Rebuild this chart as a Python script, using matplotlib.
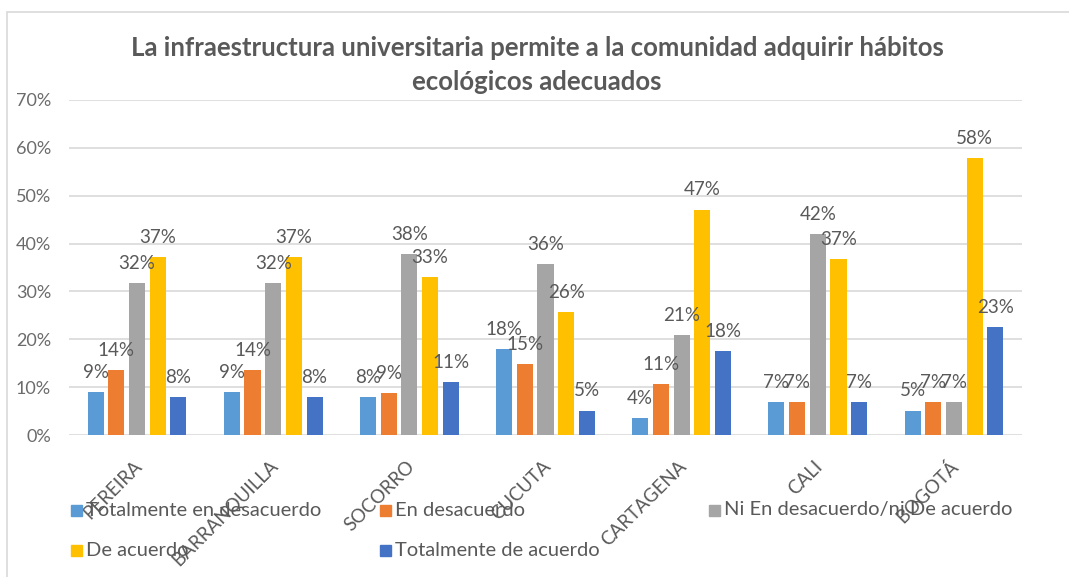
import matplotlib
matplotlib.use("Agg")
import matplotlib.pyplot as plt
from matplotlib.patches import Rectangle
import numpy as np

plt.rcParams['font.family'] = ['Lato', 'DejaVu Sans']

title = "La infraestructura universitaria permite a la comunidad adquirir hábitos\necológicos adecuados"
cities = ["PEREIRA", "BARRANQUILLA", "SOCORRO", "CUCUTA", "CARTAGENA", "CALI", "BOGOTÁ"]
series_names = ["Totalmente en desacuerdo", "En desacuerdo", "Ni En desacuerdo/ni De acuerdo",
                "De acuerdo", "Totalmente de acuerdo"]
tot_desacuerdo = [8.9, 8.9, 7.9, 17.9, 3.6, 6.8, 5.1]
en_desacuerdo = [13.6, 13.6, 8.8, 14.8, 10.6, 6.8, 6.8]
ni_ni = [31.7, 31.7, 37.9, 35.8, 20.8, 41.9, 6.8]
de_acuerdo = [37.2, 37.2, 33.0, 25.6, 47.1, 36.8, 57.8]
tot_acuerdo = [7.9, 7.9, 11.1, 5.1, 17.6, 6.8, 22.6]
colors = ["#5B9BD5", "#ED7D31", "#A5A5A5", "#FFC000", "#4472C4"]
yticks = [0, 10, 20, 30, 40, 50, 60, 70]

W, H = 1069, 577
fig = plt.figure(figsize=(W / 100, H / 100), dpi=100)
ax = fig.add_axes([69 / W, 1 - 435 / H, (1022 - 69) / W, (435 - 100) / H])

data = [tot_desacuerdo, en_desacuerdo, ni_ni, de_acuerdo, tot_acuerdo]
x = np.arange(len(cities))
step = 0.152
width = 0.118
txtc = "#595959"
for i, (vals, c) in enumerate(zip(data, colors)):
    bars = ax.bar(x + (i - 2) * step, vals, width=width, color=c, zorder=3)
    ax.bar_label(bars, labels=[f"{v:.0f}%" for v in vals], padding=8,
                 fontsize=13.5, color=txtc, zorder=5)

ax.set_xlim(-0.5, len(cities) - 0.5)
ax.set_ylim(0, 70)
ax.set_yticks(yticks)
ax.set_yticklabels([f"{t}%" for t in yticks], fontsize=13, color="#6b6b6b")
ax.yaxis.grid(True, color="#D9D9D9", linewidth=1.2, zorder=0)
ax.tick_params(axis='y', length=0, pad=13)
ax.tick_params(axis='x', length=0, pad=16)
for s in ax.spines.values():
    s.set_visible(False)
ax.set_xticks(x + 0.06)
ax.set_xticklabels(cities, rotation=45, ha='right', fontsize=13.5, color=txtc)

fig.text(537 / W, 1 - 65 / H, title, ha='center', va='center', fontsize=18.5,
         fontweight='bold', color=txtc, linespacing=1.45)

# legend (manual, Excel-like layout)
leg_x = [71, 380, 709]
leg_y = [510, 550]
for i, (name, c) in enumerate(zip(series_names, colors)):
    lx = leg_x[i % 3]
    ly = leg_y[i // 3]
    fig.patches.append(Rectangle((lx / W, 1 - (ly + 5.5) / H), 11 / W, 11 / H,
                                 transform=fig.transFigure, color=c, zorder=1))
    fig.text((lx + 15) / W, 1 - ly / H, name, ha='left', va='center',
             fontsize=14.5, color=txtc, zorder=1)

# chart frame
fig.patches.append(Rectangle((7 / W, -0.05), 1.1, 1 - 12 / H + 0.05,
                             transform=fig.transFigure, fill=False,
                             edgecolor="#D9D9D9", linewidth=1.2))

fig.savefig("out.png", dpi=100)
